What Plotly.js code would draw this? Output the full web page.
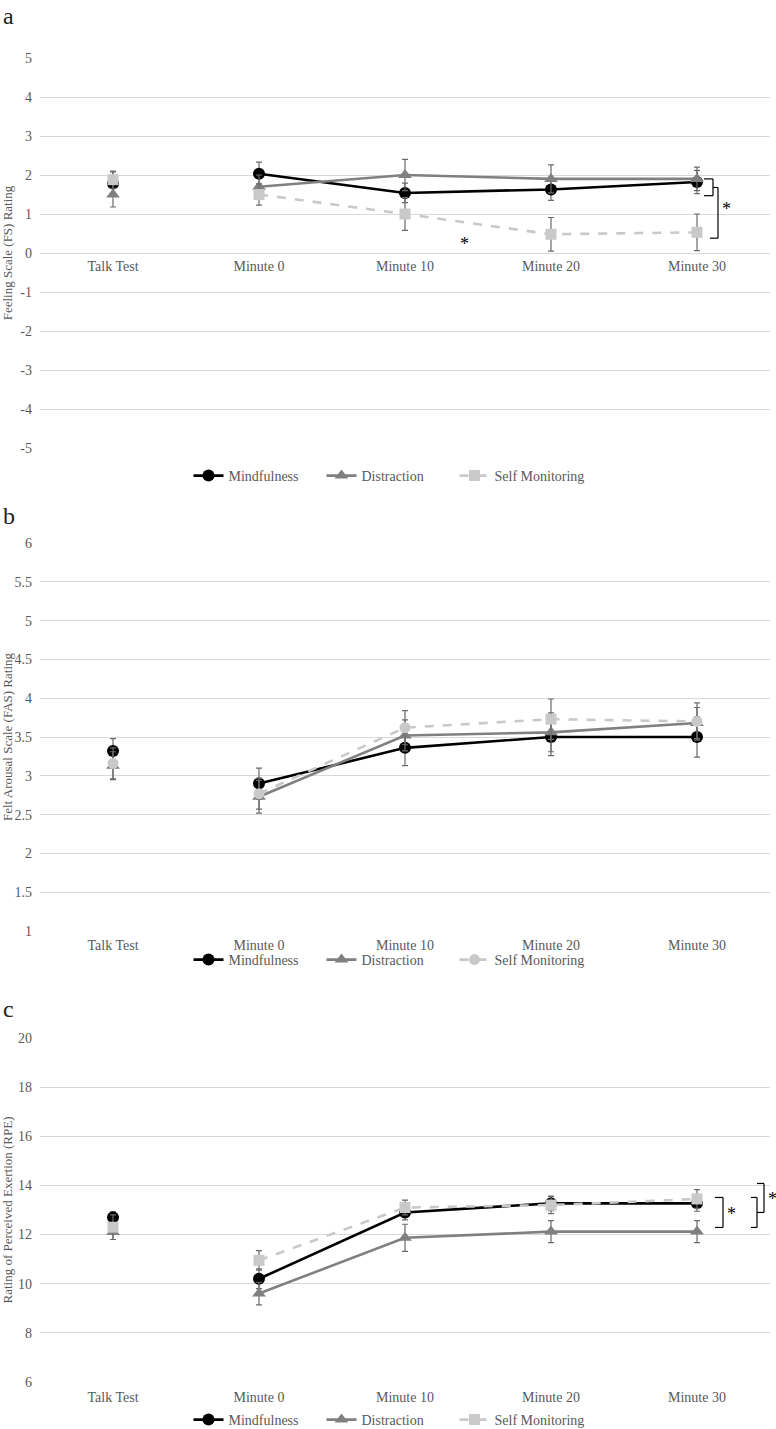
<!DOCTYPE html>
<html>
<head>
<meta charset="utf-8">
<script src="https://cdn.plot.ly/plotly-3.0.1.min.js"></script>
<style>html,body{margin:0;padding:0;background:#fff;}#chart{width:776px;height:1429px;}</style>
</head>
<body>
<div id="chart"></div>
<script>
// ---------- data ----------
const categories = ['Talk Test', 'Minute 0', 'Minute 10', 'Minute 20', 'Minute 30'];
const seriesNames = ['Mindfulness', 'Distraction', 'Self Monitoring'];

// Panel a: Feeling Scale (FS)
const fsMindfulness = [1.78, 2.03, 1.54, 1.63, 1.82];
const fsMindfulnessErr = [0.30, 0.30, 0.25, 0.28, 0.30];
const fsDistraction = [1.50, 1.70, 2.00, 1.90, 1.90];
const fsDistractionErr = [0.32, 0.30, 0.40, 0.36, 0.30];
const fsSelfMonitoring = [1.88, 1.50, 1.00, 0.48, 0.53];
const fsSelfMonitoringErr = [0.22, 0.27, 0.42, 0.43, 0.47];
const fsTickVals = [-5, -4, -3, -2, -1, 0, 1, 2, 3, 4, 5];
const fsTickText = ['-5', '-4', '-3', '-2', '-1', '0', '1', '2', '3', '4', '5'];

// Panel b: Felt Arousal Scale (FAS)
const fasMindfulness = [3.32, 2.90, 3.36, 3.50, 3.50];
const fasMindfulnessErr = [0.16, 0.20, 0.23, 0.24, 0.26];
const fasDistraction = [3.13, 2.73, 3.52, 3.56, 3.68];
const fasDistractionErr = [0.18, 0.21, 0.20, 0.25, 0.20];
const fasSelfMonitoring = [3.16, 2.77, 3.62, 3.73, 3.70];
const fasSelfMonitoringErr = [0.20, 0.20, 0.22, 0.26, 0.24];
const fasSelfMonitoringSymbols = ['circle', 'circle', 'circle', 'square', 'circle'];
const fasTickVals = [1, 1.5, 2, 2.5, 3, 3.5, 4, 4.5, 5, 5.5, 6];

// Panel c: Rating of Perceived Exertion (RPE)
const rpeMindfulness = [12.70, 10.20, 12.90, 13.27, 13.27];
const rpeMindfulnessErr = [0.22, 0.40, 0.30, 0.30, 0.32];
const rpeDistraction = [12.10, 9.60, 11.87, 12.12, 12.12];
const rpeDistractionErr = [0.30, 0.46, 0.55, 0.45, 0.45];
const rpeSelfMonitoring = [12.30, 10.95, 13.10, 13.20, 13.45];
const rpeSelfMonitoringErr = [0.50, 0.40, 0.30, 0.35, 0.38];
const rpeTickVals = [6, 8, 10, 12, 14, 16, 18, 20];

// ---------- styling ----------
const W = 776, H = 1429;
const FONT = "'Liberation Serif', 'Times New Roman', serif";
const GREY_TXT = '#595959';
const GRID = '#d9d9d9';
const ERR_COL = '#6b6b6b';
const styles = [
  {color: '#000000', symbol: 'circle', size: 12, dash: 'solid'},
  {color: '#808080', symbol: 'triangle-up', size: 12, dash: 'solid'},
  {color: '#c9c9c9', symbol: 'square', size: 11, dash: 'dash'}
];
const px2py = p => (H - p) / H;  // pixel row -> paper y
const px2px = p => p / W;        // pixel col -> paper x
const xDomain = [px2px(40), px2px(770)];

function pick(arr, idx) { return idx.map(k => arr[k]); }

// Talk Test stands alone (not joined to the exercise time points)
function makeTraces(ys, errs, xa, ya, legendId, symbolOverride) {
  const out = [];
  const groups = [[0], [1, 2, 3, 4]];
  groups.forEach((idx, g) => {
    ys.forEach((y, i) => {
      const sym = (symbolOverride && symbolOverride[i]) ? pick(symbolOverride[i], idx) : styles[i].symbol;
      out.push({
        type: 'scatter', mode: g === 0 ? 'markers' : 'lines+markers',
        x: pick(categories, idx), y: pick(y, idx), name: seriesNames[i],
        xaxis: xa, yaxis: ya, legend: legendId, showlegend: g === 1,
        legendrank: i + 1,
        line: {color: styles[i].color, width: 2.6, dash: styles[i].dash},
        marker: {color: styles[i].color, symbol: sym, size: styles[i].size},
        error_y: {type: 'data', array: pick(errs[i], idx), visible: true, color: ERR_COL, thickness: 1.2, width: 3},
        hoverinfo: 'x+y+name'
      });
    });
  });
  return out;
}

const traces = [
  ...makeTraces([fsMindfulness, fsDistraction, fsSelfMonitoring],
                [fsMindfulnessErr, fsDistractionErr, fsSelfMonitoringErr], 'x', 'y', 'legend'),
  ...makeTraces([fasMindfulness, fasDistraction, fasSelfMonitoring],
                [fasMindfulnessErr, fasDistractionErr, fasSelfMonitoringErr], 'x2', 'y2', 'legend2',
                [null, null, fasSelfMonitoringSymbols]),
  ...makeTraces([rpeMindfulness, rpeDistraction, rpeSelfMonitoring],
                [rpeMindfulnessErr, rpeDistractionErr, rpeSelfMonitoringErr], 'x3', 'y3', 'legend3')
];

const tickFont = {family: FONT, size: 14, color: GREY_TXT};
const titleFont = {family: FONT, size: 13, color: GREY_TXT};

function xAxis(extra) {
  return Object.assign({
    domain: xDomain, type: 'category', range: [-0.5, 4.5],
    categoryorder: 'array', categoryarray: categories,
    showgrid: false, zeroline: false, showline: false, ticks: '',
    tickfont: tickFont, fixedrange: true
  }, extra);
}
function yAxis(extra) {
  return Object.assign({
    showgrid: true, gridcolor: GRID, gridwidth: 1, zeroline: false, showline: false,
    ticks: '', tickfont: tickFont, ticklabelstandoff: 7, fixedrange: true,
    tickmode: 'array'
  }, extra);
}

function legend(yPix) {
  return {
    orientation: 'h', x: 0.5, xanchor: 'center', y: px2py(yPix), yanchor: 'middle',
    font: {family: FONT, size: 14, color: GREY_TXT}, itemwidth: 30, bgcolor: 'rgba(0,0,0,0)',
    traceorder: 'normal', entrywidth: 88, entrywidthmode: 'pixels'
  };
}

const line = (x0, y0, x1, y1, yref, w) => ({
  type: 'line', xref: 'paper', yref: yref, x0: px2px(x0), x1: px2px(x1), y0: y0, y1: y1,
  line: {color: '#000', width: w || 1.2}
});

const shapes = [
  // panel a brackets
  line(704, 1.90, 713, 1.90, 'y'), line(713, 1.90, 713, 1.47, 'y'), line(713, 1.47, 704, 1.47, 'y'),
  line(713, 1.68, 718, 1.68, 'y'), line(718, 1.68, 718, 0.38, 'y'), line(718, 0.38, 710, 0.38, 'y'),
  // panel c brackets
  line(715, 13.51, 723, 13.51, 'y3'), line(723, 13.51, 723, 12.29, 'y3'), line(723, 12.29, 715, 12.29, 'y3'),
  line(751, 13.51, 757, 13.51, 'y3'), line(757, 13.51, 757, 12.29, 'y3'), line(757, 12.29, 751, 12.29, 'y3'),
  line(757, 12.90, 764, 12.90, 'y3'), line(764, 12.90, 764, 14.08, 'y3'), line(764, 14.08, 757, 14.08, 'y3')
];

const star = (xp, y, yref) => ({
  xref: 'paper', yref: yref, x: px2px(xp), y: y, text: '*', showarrow: false,
  font: {family: FONT, size: 18, color: '#000'}, xanchor: 'center', yanchor: 'middle'
});
const panelLabel = (txt, yPix) => ({
  xref: 'paper', yref: 'paper', x: px2px(1), y: px2py(yPix), text: txt, showarrow: false,
  font: {family: FONT, size: 24, color: '#222'}, xanchor: 'left', yanchor: 'middle'
});

const annotations = [
  panelLabel('a', 16), panelLabel('b', 516), panelLabel('c', 1009),
  star(464, 0.22, 'y'), star(726, 1.12, 'y'),
  star(731, 12.85, 'y3'), star(772, 13.45, 'y3')
];

const layout = {
  width: W, height: H,
  margin: {l: 0, r: 0, t: 0, b: 0, autoexpand: false},
  paper_bgcolor: '#fff', plot_bgcolor: '#fff',
  font: {family: FONT, color: GREY_TXT},
  showlegend: true,
  xaxis: xAxis({anchor: 'free', position: px2py(253), ticklabelstandoff: 3}),
  yaxis: yAxis({anchor: 'x', domain: [px2py(448), px2py(58)], range: [-5, 5], tickvals: fsTickVals, ticktext: fsTickText,
    title: {text: 'Feeling Scale (FS) Rating', font: titleFont, standoff: 10}}),
  xaxis2: xAxis({anchor: 'y2', ticklabelstandoff: 4}),
  yaxis2: yAxis({anchor: 'x2', domain: [px2py(931), px2py(543)], range: [1, 6], tickvals: fasTickVals,
    title: {text: 'Felt Arousal Scale (FAS) Rating', font: titleFont, standoff: 8}}),
  xaxis3: xAxis({anchor: 'y3', ticklabelstandoff: 5}),
  yaxis3: yAxis({anchor: 'x3', domain: [px2py(1382), px2py(1038)], range: [6, 20], tickvals: rpeTickVals,
    title: {text: 'Rating of Perceived Exertion (RPE)', font: titleFont, standoff: 8}}),
  legend: legend(476),
  legend2: legend(960),
  legend3: legend(1420),
  shapes: shapes,
  annotations: annotations
};

Plotly.newPlot('chart', traces, layout, {displayModeBar: false, staticPlot: true});
</script>
</body>
</html>
